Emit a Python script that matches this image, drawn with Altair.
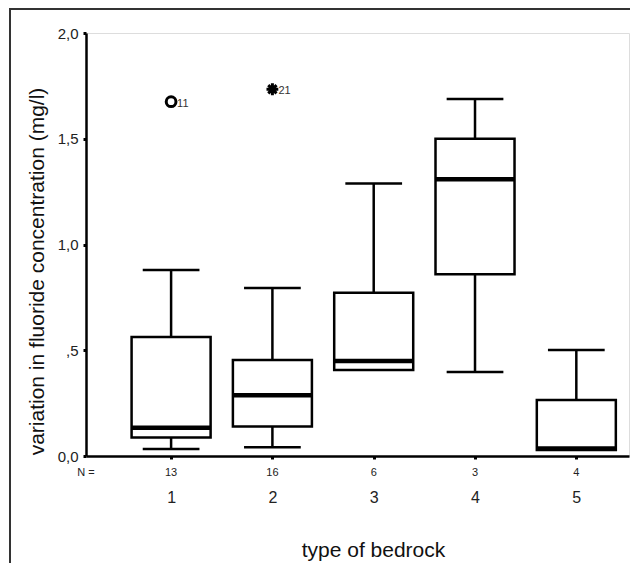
import altair as alt
import pandas as pd

# ---- data ----
categories = [1, 2, 3, 4, 5]
n_values = [13, 16, 6, 3, 4]
whisker_low = [0.033, 0.041, 0.407, 0.397, 0.028]
q1 = [0.088, 0.139, 0.407, 0.859, 0.028]
median = [0.134, 0.287, 0.449, 1.308, 0.036]
q3 = [0.563, 0.454, 0.772, 1.500, 0.265]
whisker_high = [0.880, 0.794, 1.289, 1.688, 0.501]

outlier_cat = [1, 2]
outlier_val = [1.675, 1.734]
outlier_id = ["11", "21"]

x_title = "type of bedrock"
y_title = "variation in fluoride concentration (mg/l)"
FONT = "Liberation Sans"

df = pd.DataFrame({
    "cat": categories, "n": [str(v) for v in n_values],
    "wlo": whisker_low, "q1": q1, "med": median, "q3": q3, "whi": whisker_high,
})
out = pd.DataFrame({"cat": outlier_cat, "val": outlier_val, "id": outlier_id})

xs = alt.Scale(domain=[0.16, 5.52], nice=False, zero=False)
ys = alt.Scale(domain=[0, 2.0], nice=False, zero=True)

X_AX = alt.Axis(
    values=categories, format="d", title=x_title, grid=False,
    domainColor="black", domainWidth=2.5, tickColor="black", tickSize=3, tickWidth=3,
    labelFont=FONT, labelFontSize=16, labelColor="#222", labelPadding=38,
    labelBaseline="middle", titleFont=FONT, titleFontSize=21, titleFontWeight="normal",
    titleColor="#111", titleX=287, titleY=100, titleBaseline="alphabetic", titleAlign="center",
)
Y_AX = alt.Axis(
    values=[0, 0.5, 1.0, 1.5, 2.0],
    labelExpr="datum.value == 0.5 ? ',5' : replace(format(datum.value, '.1f'), '.', ',')",
    title=y_title, grid=False,
    domainColor="black", domainWidth=2.5, tickColor="black", tickSize=3, tickWidth=3,
    labelFont=FONT, labelFontSize=15, labelColor="#222", labelPadding=5,
    titleFont=FONT, titleFontSize=21, titleFontWeight="normal", titleColor="#111",
    titleAngle=270, titleX=-49, titleY=238, titleAlign="center", titleBaseline="middle",
)

base = alt.Chart(df)

whisk = base.mark_rule(color="black", strokeWidth=2.5).encode(
    x=alt.X("cat:Q", scale=xs, axis=X_AX),
    y=alt.Y("wlo:Q", scale=ys, axis=Y_AX),
    y2="whi:Q",
)

caps_hi = base.transform_calculate(a="datum.cat - 0.28", b="datum.cat + 0.28").mark_rule(
    color="black", strokeWidth=2.5
).encode(
    x=alt.X("a:Q", scale=xs, axis=X_AX), x2="b:Q",
    y=alt.Y("whi:Q", scale=ys, axis=Y_AX),
)
caps_lo = base.transform_filter("datum.wlo < datum.q1").transform_calculate(
    a="datum.cat - 0.28", b="datum.cat + 0.28"
).mark_rule(color="black", strokeWidth=2.5).encode(
    x=alt.X("a:Q", scale=xs, axis=X_AX), x2="b:Q",
    y=alt.Y("wlo:Q", scale=ys, axis=Y_AX),
)

box = base.transform_calculate(a="datum.cat - 0.39", b="datum.cat + 0.39").mark_rect(
    fill="white", stroke="black", strokeWidth=2.5
).encode(
    x=alt.X("a:Q", scale=xs, axis=X_AX), x2="b:Q",
    y=alt.Y("q1:Q", scale=ys, axis=Y_AX), y2="q3:Q",
)

med = base.transform_calculate(a="datum.cat - 0.39", b="datum.cat + 0.39").mark_rule(
    color="black", strokeWidth=4.5
).encode(
    x=alt.X("a:Q", scale=xs, axis=X_AX), x2="b:Q",
    y=alt.Y("med:Q", scale=ys, axis=Y_AX),
)

nlab = base.mark_text(font=FONT, fontSize=11, color="#222", baseline="middle").encode(
    x=alt.X("cat:Q", scale=xs, axis=X_AX), y=alt.value(440), text="n:N",
)
nhead = alt.Chart(pd.DataFrame({"t": ["N ="]})).mark_text(
    font=FONT, fontSize=11, color="#222", baseline="middle"
).encode(x=alt.value(0), y=alt.value(440), text="t:N")

circ = alt.Chart(out).transform_filter("datum.id == '11'").mark_point(
    shape="circle", filled=False, stroke="black", strokeWidth=3, size=95, opacity=1
).encode(x=alt.X("cat:Q", scale=xs, axis=X_AX), y=alt.Y("val:Q", scale=ys, axis=Y_AX))

star = alt.Chart(out).transform_filter("datum.id == '21'").mark_point(
    shape="M-1,0L1,0M0,-1L0,1M-0.7,-0.7L0.7,0.7M-0.7,0.7L0.7,-0.7",
    filled=False, stroke="black", strokeWidth=3, size=140, opacity=1
).encode(x=alt.X("cat:Q", scale=xs, axis=X_AX), y=alt.Y("val:Q", scale=ys, axis=Y_AX))

olab = alt.Chart(out).mark_text(
    font=FONT, fontSize=11, color="#333", align="left", baseline="middle", dx=6, dy=2
).encode(x=alt.X("cat:Q", scale=xs, axis=X_AX), y=alt.Y("val:Q", scale=ys, axis=Y_AX), text="id:N")

one = pd.DataFrame({"k": [0]})
frame_l = alt.Chart(one).mark_rule(color="#333", strokeWidth=2).encode(
    x=alt.value(-76), y=alt.value(-25), y2=alt.value(560)
)
frame_t = alt.Chart(one).mark_rule(color="#333", strokeWidth=2).encode(
    x=alt.value(-77), x2=alt.value(560), y=alt.value(-24)
)

chart = alt.layer(
    frame_l, frame_t, whisk, caps_hi, caps_lo, box, med, nlab, nhead, circ, star, olab
).properties(
    width=543, height=423,
    autosize=alt.AutoSizeParams(type="none"),
    padding={"left": 78, "top": 25, "right": 1, "bottom": 107},
).configure_view(stroke=None).configure(background="white")

chart.save("out.html", embed_options={"renderer": "svg", "actions": False})
